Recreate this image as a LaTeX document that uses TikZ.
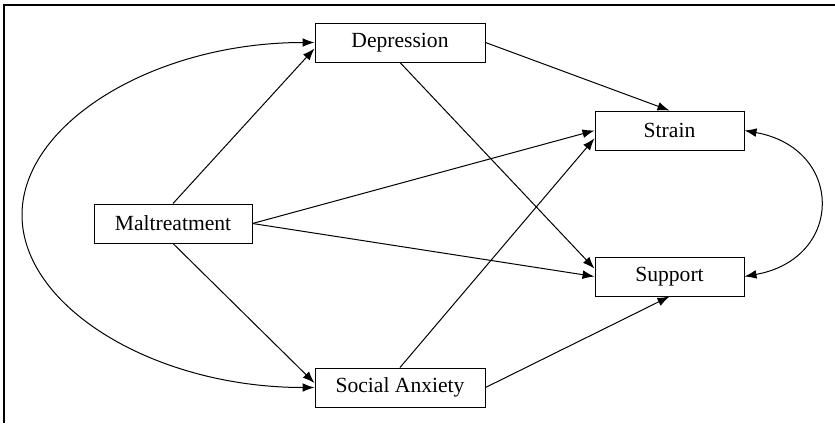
\documentclass[tikz,border=0pt]{standalone}
\usepackage{fontspec}
\setmainfont{Liberation Serif}
\usetikzlibrary{arrows.meta}

\begin{document}
\begin{tikzpicture}[x=0.5pt, y=-0.5pt, >={Latex[length=6pt,width=4.4pt]}, line width=0.5pt,
    var/.style={draw, rectangle, minimum height=19.5pt, inner sep=0pt,
      font=\fontsize{10.8}{13}\selectfont}]
    \useasboundingbox (0,0) rectangle (835,423);
    % frame
    \draw[line width=0.75pt] (835,5) -- (4,5) -- (4,423);
    % variables
    \node[var, minimum width=85pt]   (dep) at (400,42.5)  {Depression};
    \node[var, minimum width=79pt]   (mal) at (173,223.5) {Maltreatment};
    \node[var, minimum width=85pt]   (soc) at (400,387.5) {Social Anxiety};
    \node[var, minimum width=74.5pt] (str) at (669.5,130.5) {Strain};
    \node[var, minimum width=74.5pt] (sup) at (669.5,276.5) {Support};
    % paths from maltreatment
    \draw[->] (mal.north) -- (dep.184);
    \draw[->] (mal.south) -- (soc.177);
    \draw[->] (mal.east) -- (str.west);
    \draw[->] (mal.east) -- (sup.west);
    % paths from mediators
    \draw[->] (dep.east) -- (str.north);
    \draw[->] (dep.south) -- (sup.174);
    \draw[->] (soc.north) -- (str.186);
    \draw[->] (soc.east) -- (sup.south);
    % covariances
    \coordinate (lft) at (22,215);
    \draw[<->] (dep.west) .. controls +(-160,0) and +(0,-92) .. (lft)
      .. controls +(0,92) and +(-160,0) .. (soc.west);
    \draw[<->] (str.east) .. controls +(100,18) and +(100,-18) .. (sup.east);
\end{tikzpicture}
\end{document}
